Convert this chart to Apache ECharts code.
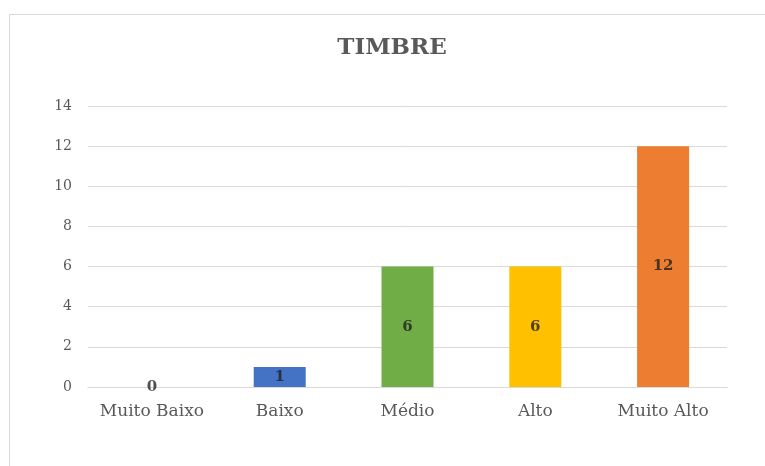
<!DOCTYPE html>
<html>
<head>
<meta charset="utf-8">
<style>
  html, body { margin: 0; padding: 0; background: #fff; }
  #chart { width: 765px; height: 466px; }
</style>
<script src="https://cdn.jsdelivr.net/npm/echarts@6/dist/echarts.min.js"></script>
</head>
<body>
<div id="chart"></div>
<script>
// Timbre ratings: count of responses per category
const categories = ['Muito Baixo', 'Baixo', 'Médio', 'Alto', 'Muito Alto'];
const counts = [0, 1, 6, 6, 12];
const barColors = ['#4472C4', '#4472C4', '#70AD47', '#FFC000', '#ED7D31'];
const yTicks = { min: 0, max: 14, interval: 2 };

const serif = '"DejaVu Serif", serif';
const textGray = '#595959';

const chart = echarts.init(document.getElementById('chart'), null, { renderer: 'canvas' });

chart.setOption({
  animation: false,
  backgroundColor: '#ffffff',
  graphic: [{
    // frame of the chart area
    type: 'rect',
    shape: { x: 9.5, y: 14.5, width: 800, height: 500 },
    style: { fill: 'none', stroke: '#d9d9d9', lineWidth: 1 },
    silent: true
  }],
  title: {
    text: 'TIMBRE',
    left: 387,
    top: 32,
    textAlign: 'center',
    textStyle: { fontFamily: serif, fontSize: 23, fontWeight: 'bold', color: textGray }
  },
  grid: { left: 88, right: 38, top: 106, bottom: 79 },
  xAxis: {
    type: 'category',
    data: categories,
    axisLine: { lineStyle: { color: '#d9d9d9' } },
    axisTick: { show: false },
    axisLabel: { interval: 0, fontFamily: serif, fontSize: 17, color: textGray, margin: 16 }
  },
  yAxis: {
    type: 'value',
    min: yTicks.min,
    max: yTicks.max,
    interval: yTicks.interval,
    axisLine: { show: false },
    axisTick: { show: false },
    splitLine: { lineStyle: { color: '#d9d9d9' } },
    axisLabel: { fontFamily: serif, fontSize: 14, color: textGray, margin: 16 }
  },
  series: [{
    type: 'bar',
    barWidth: 52,
    data: counts.map((v, i) => ({ value: v, itemStyle: { color: barColors[i] } })),
    label: {
      show: true,
      position: 'inside',
      fontFamily: serif,
      fontSize: 15,
      fontWeight: 'bold',
      color: 'rgba(30,30,30,0.78)'
    }
  }]
});
</script>
</body>
</html>
